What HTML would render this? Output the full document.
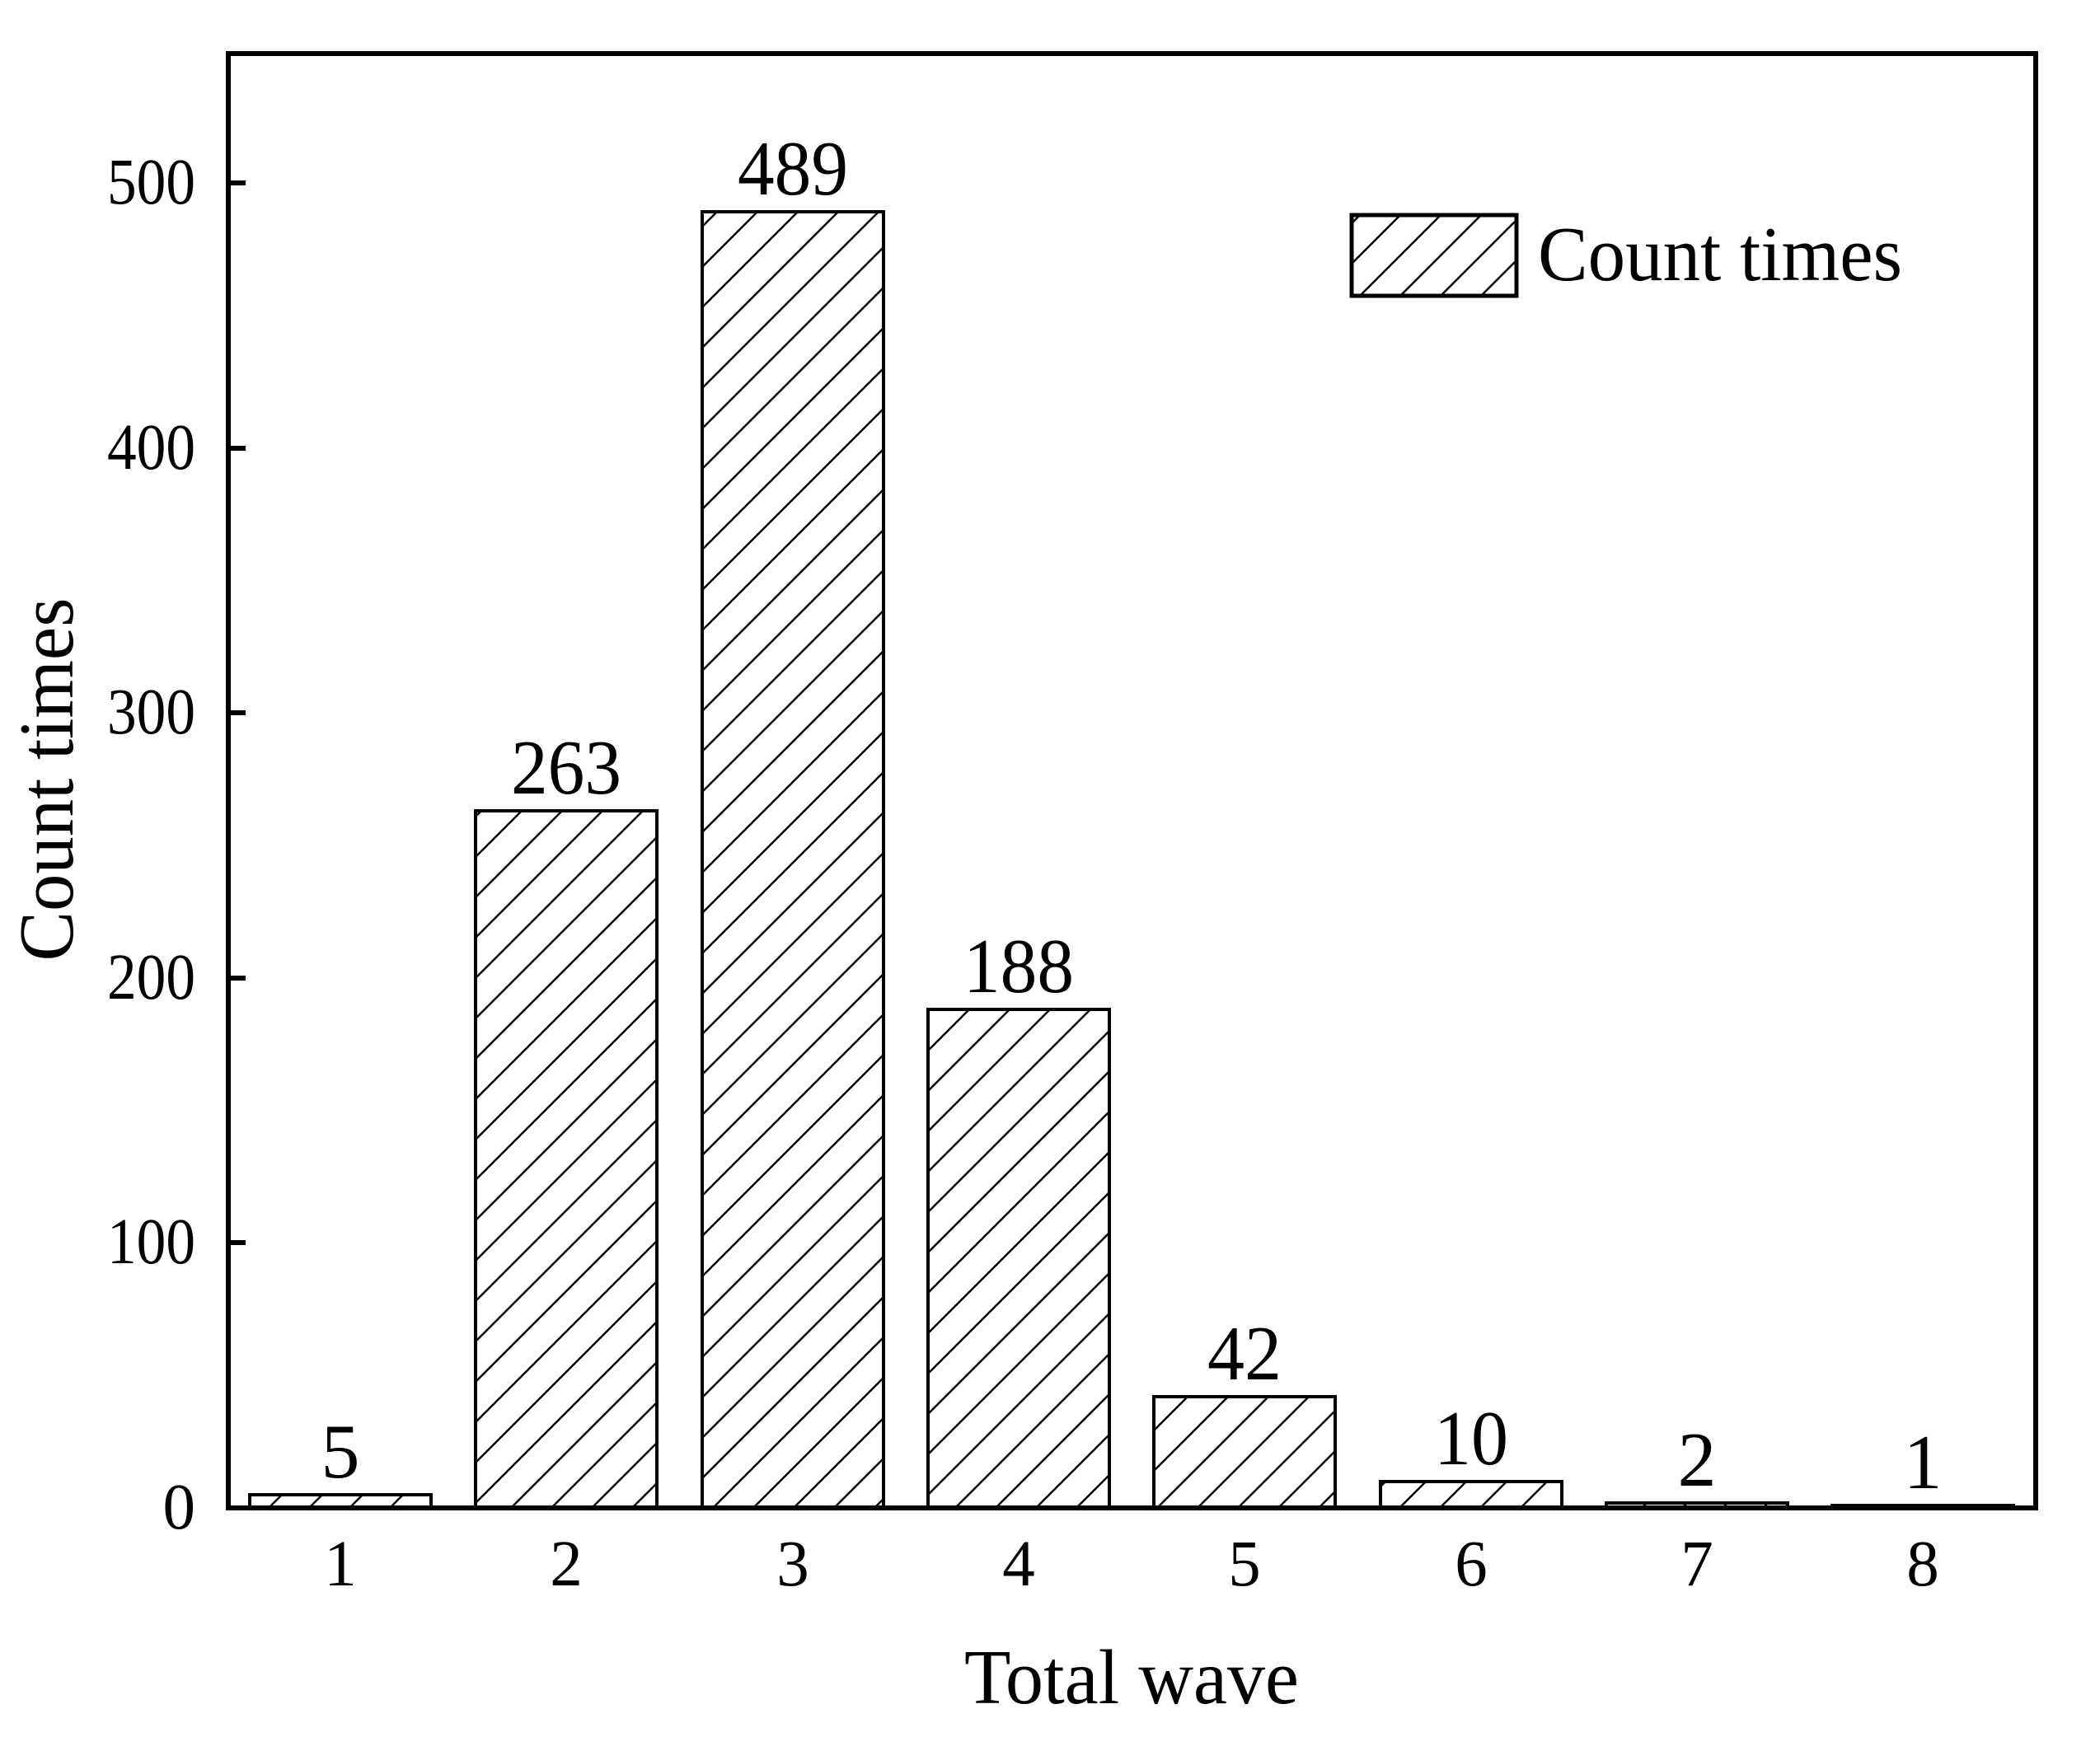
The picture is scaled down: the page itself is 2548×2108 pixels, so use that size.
<!DOCTYPE html>
<html><head><style>body{margin:0;background:#fff}svg{display:block}</style></head>
<body>
<svg width="2548" height="2108" viewBox="0 0 2548 2108" xmlns="http://www.w3.org/2000/svg" font-family="'Liberation Serif', serif">
<defs>
<pattern id="h" patternUnits="userSpaceOnUse" width="49" height="49">
<path d="M0,49 L49,0 M-10,10 L10,-10 M39,59 L59,39" stroke="#000" stroke-width="2.5"/>
</pattern>
</defs>
<rect width="2548" height="2108" fill="#fff"/>
<g stroke="#000" stroke-width="4" fill="url(#h)">
<rect x="303" y="1814" width="220" height="16"/>
<rect x="577" y="984" width="220" height="846"/>
<rect x="852" y="257" width="220" height="1573"/>
<rect x="1126" y="1225" width="220" height="605"/>
<rect x="1400" y="1695" width="220" height="135"/>
<rect x="1675" y="1798" width="220" height="32"/>
<rect x="1949" y="1824" width="220" height="6"/>
<rect x="2223" y="1827" width="220" height="3"/>
</g>
<rect x="277" y="65" width="2193" height="1765" fill="none" stroke="#000" stroke-width="6"/>
<g stroke="#000" stroke-width="6">
<line x1="277" y1="222" x2="298" y2="222"/>
<line x1="277" y1="544" x2="298" y2="544"/>
<line x1="277" y1="865" x2="298" y2="865"/>
<line x1="277" y1="1187" x2="298" y2="1187"/>
<line x1="277" y1="1508" x2="298" y2="1508"/>
</g>
<g font-size="79" text-anchor="end">
<text x="237" y="1855">0</text>
<text x="237" y="1533" textLength="107" lengthAdjust="spacingAndGlyphs">100</text>
<text x="237" y="1212" textLength="107" lengthAdjust="spacingAndGlyphs">200</text>
<text x="237" y="890" textLength="107" lengthAdjust="spacingAndGlyphs">300</text>
<text x="237" y="569" textLength="107" lengthAdjust="spacingAndGlyphs">400</text>
<text x="237" y="247" textLength="107" lengthAdjust="spacingAndGlyphs">500</text>
</g>
<g font-size="79" text-anchor="middle">
<text x="413" y="1924">1</text>
<text x="687" y="1924">2</text>
<text x="962" y="1924">3</text>
<text x="1236" y="1924">4</text>
<text x="1510" y="1924">5</text>
<text x="1785" y="1924">6</text>
<text x="2059" y="1924">7</text>
<text x="2333" y="1924">8</text>
</g>
<g font-size="94" text-anchor="middle">
<text x="413" y="1793">5</text>
<text x="687" y="963" textLength="134" lengthAdjust="spacingAndGlyphs">263</text>
<text x="962" y="236" textLength="134" lengthAdjust="spacingAndGlyphs">489</text>
<text x="1236" y="1204" textLength="134" lengthAdjust="spacingAndGlyphs">188</text>
<text x="1510" y="1674" textLength="90" lengthAdjust="spacingAndGlyphs">42</text>
<text x="1785" y="1777" textLength="90" lengthAdjust="spacingAndGlyphs">10</text>
<text x="2059" y="1803">2</text>
<text x="2333" y="1806">1</text>
</g>
<rect x="1640" y="261" width="200" height="98" fill="url(#h)" stroke="#000" stroke-width="5"/>
<text x="1866" y="340" font-size="94" textLength="442" lengthAdjust="spacingAndGlyphs">Count times</text>
<text x="1373" y="2067" font-size="94" text-anchor="middle" textLength="406" lengthAdjust="spacingAndGlyphs">Total wave</text>
<text transform="translate(88,946) rotate(-90)" font-size="94" text-anchor="middle" textLength="441" lengthAdjust="spacingAndGlyphs">Count times</text>
</svg>
</body></html>
